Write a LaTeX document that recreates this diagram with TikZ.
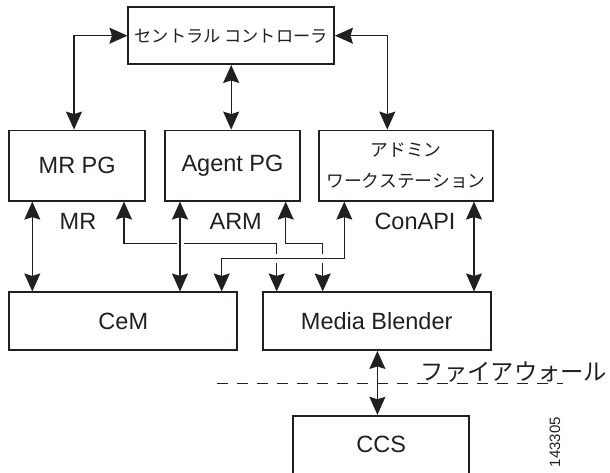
\documentclass[tikz,border=0pt]{standalone}
\usepackage{fontspec}
\setmainfont{Liberation Sans}
\newfontfamily\jpfont{Noto Sans CJK JP}
\usetikzlibrary{arrows.meta}
\definecolor{cisink}{HTML}{231F20}

\begin{document}
\begin{tikzpicture}[x=1pt,y=-1pt,
    box/.style={draw=cisink,line width=1.8pt,inner sep=0pt,text=cisink,minimum height=57.7pt},
    link/.style={draw=cisink,line width=1.3pt,
      arrows={Stealth[length=18pt,width=16pt,inset=2.5pt]-Stealth[length=18pt,width=16pt,inset=2.5pt]}},
    gap/.style={draw=white,line width=7pt},
    big/.style={font=\fontsize{23.5}{28}\selectfont},
    jp/.style={font=\jpfont\fontsize{17.2}{20}\selectfont}]
    \useasboundingbox (0,0) rectangle (610,472);
    % --- controller and peripheral gateways ---
    \node[box,jp,minimum width=205.7pt,minimum height=56.7pt] (ctrl) at (231.2,35.7) {セントラル コントローラ};
    \node[box,big,minimum width=135.7pt,minimum height=70.2pt] (mrpg) at (77.2,165.6) {MR PG};
    \node[box,big,minimum width=135pt,minimum height=70.2pt] (agent) at (232.5,165.6) {Agent PG};
    \node[box,minimum width=173.4pt,minimum height=70.2pt,align=center,
          font=\jpfont\fontsize{17.8}{30.5}\selectfont] (admin) at (406,165.6) {アドミン\\ワークステーション};
    % --- lower row ---
    \node[box,big,minimum width=228pt] (cem) at (123.3,321.2) {CeM};
    \node[box,big,minimum width=228pt] (mb) at (376.7,321.2) {Media Blender};
    \node[box,big,minimum width=176pt,minimum height=58pt] (ccs) at (381.3,444.7) {CCS};
    % interface names
    \node[big,text=cisink] (mrlbl) at (78,221.7) {MR};
    \node[big,text=cisink] (armlbl) at (235.7,221.7) {ARM};
    \node[big,text=cisink] (conlbl) at (415,221.7) {ConAPI};
    % --- controller links ---
    \draw[link] (ctrl.west) -| (mrpg.north -| 74,0);
    \draw[link] (ctrl.south) -- (ctrl.south |- agent.north);
    \draw[link] (ctrl.east) -| (admin.north -| 387.3,0);
    % --- gateway links ---
    \draw[link] (mrpg.south -| 32.3,0) -- (cem.north -| 32.3,0);
    \draw[link] (mrpg.south -| 124,0) |- (276.7,243.3) -- (mb.north -| 276.7,0);
    \draw[link] (agent.south -| 285.7,0) |- (322.7,243.3) -- (mb.north -| 322.7,0);
    \draw[gap] (176.5,243.3) -- (183.5,243.3);
    \draw[link] (agent.south -| 180,0) -- (cem.north -| 180,0);
    \foreach \x in {276.7,322.7}{\draw[gap] (\x,253.5) -- (\x,263.1);}
    \draw[link] (admin.south -| 344.3,0) |- (221.7,258.3) -- (cem.north -| 221.7,0);
    \draw[link] (admin.south -| 474,0) -- (mb.north -| 474,0);
    % --- firewall ---
    \draw[link] (mb.south -| 377.4,0) -- (ccs.north -| 377.4,0);
    \coordinate (fwl) at (217,383);
    \coordinate (fwr) at (563,383);
    \draw[cisink,line width=1pt,dash pattern=on 11pt off 9pt] (fwl) -- (fwr);
    \node[font=\jpfont\fontsize{23.3}{26}\selectfont,text=cisink] (fwlbl) at (514,371.7) {ファイアウォール};
    \node[font=\fontsize{15}{18}\selectfont,text=cisink,rotate=90] (figno) at (555,442) {143305};
\end{tikzpicture}
\end{document}
